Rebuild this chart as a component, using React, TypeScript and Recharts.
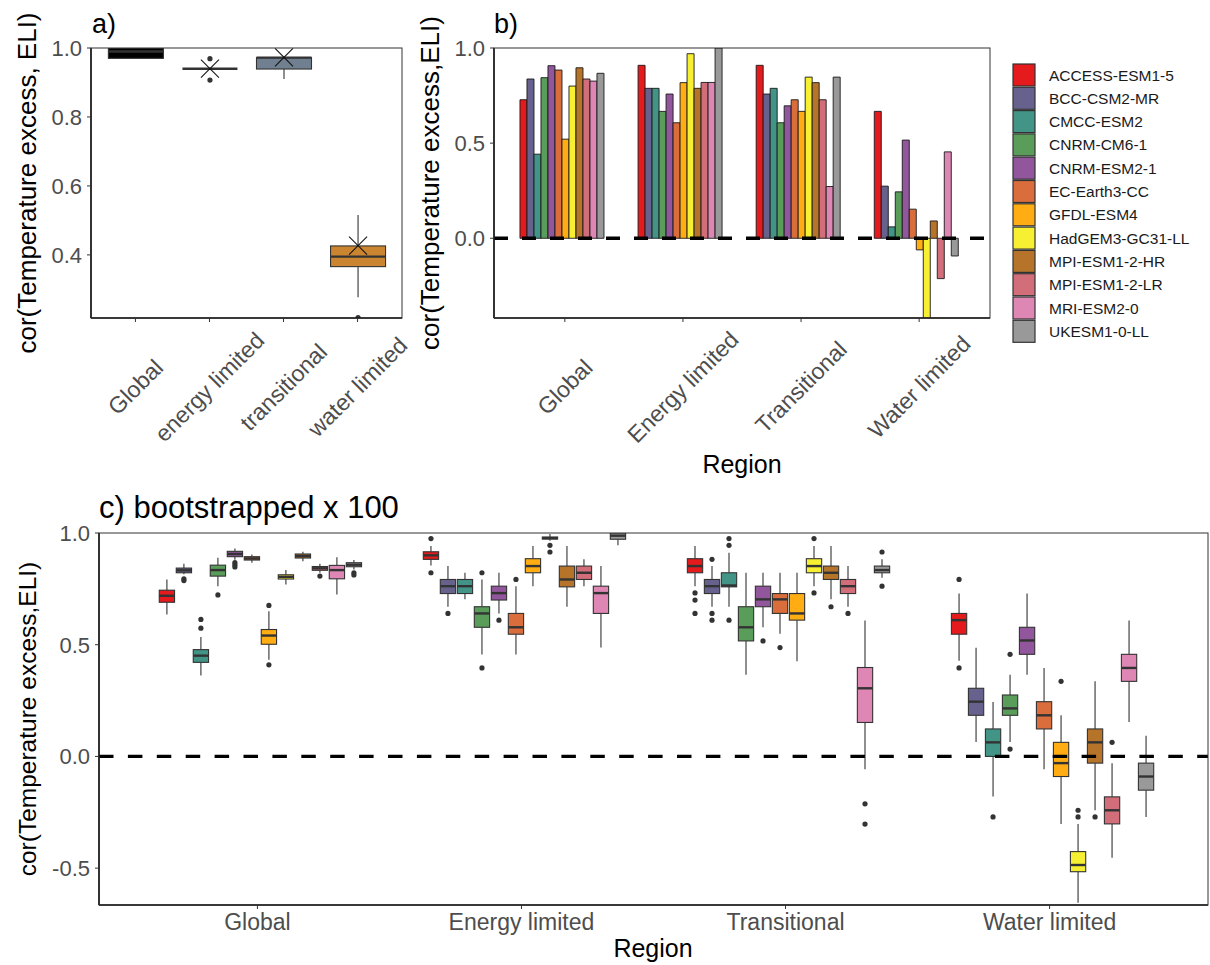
import React from 'react'
import { ComposedChart, Bar, XAxis, YAxis, ReferenceLine } from 'recharts'

const FONT = '"Liberation Sans", Arial, Helvetica, sans-serif'
const TICK_GREY = '#4d4d4d'

const regionsA = ['Global', 'energy limited', 'transitional', 'water limited']
const regions = ['Global', 'Energy limited', 'Transitional', 'Water limited']

const models = [
  'ACCESS-ESM1-5', 'BCC-CSM2-MR', 'CMCC-ESM2', 'CNRM-CM6-1', 'CNRM-ESM2-1', 'EC-Earth3-CC',
  'GFDL-ESM4', 'HadGEM3-GC31-LL', 'MPI-ESM1-2-HR', 'MPI-ESM1-2-LR', 'MRI-ESM2-0', 'UKESM1-0-LL',
]
const modelColors = [
  '#E41A1C', '#66628D', '#419486', '#5A9D5A', '#91569B', '#D96D3B',
  '#FFAD12', '#F7F032', '#B6742A', '#D26D7A', '#DE87B5', '#999999',
]

// [lower whisker, q1, median, q3, upper whisker, outliers]
type Box = [number, number, number, number, number, number[]]

// a) ensemble spread per region, cross = mean (hidden inside the black Global box)
const ensembleBoxes: Box[] = [
  [0.968, 0.97, 0.99, 1.0, 1.0, []],
  [0.94, 0.94, 0.94, 0.94, 0.94, [0.969, 0.907]],
  [0.91, 0.939, 0.972, 0.972, 0.972, []],
  [0.277, 0.366, 0.395, 0.426, 0.516, [0.218]],
]
const ensembleMeans: (number | null)[] = [null, 0.94, 0.973, 0.427]
const ensembleFills = ['#000000', '#ffffff', '#708090', '#CB8530']

// b) correlation per model
const corGlobal = [0.728, 0.837, 0.442, 0.844, 0.907, 0.884, 0.521, 0.8, 0.896, 0.837, 0.826, 0.867]
const corEnergy = [0.909, 0.788, 0.788, 0.667, 0.758, 0.607, 0.818, 0.97, 0.788, 0.819, 0.819, 1.0]
const corTransitional = [0.909, 0.758, 0.788, 0.607, 0.696, 0.728, 0.667, 0.847, 0.818, 0.728, 0.272, 0.847]
const corWater = [0.667, 0.274, 0.06, 0.244, 0.516, 0.153, -0.061, -0.5, 0.091, -0.212, 0.454, -0.093]

// c) bootstrapped x 100
const bootGlobal: Box[] = [
  [0.635, 0.69, 0.719, 0.744, 0.792, []],
  [0.815, 0.822, 0.833, 0.843, 0.862, [0.795, 0.787]],
  [0.362, 0.421, 0.451, 0.478, 0.535, [0.574, 0.613]],
  [0.762, 0.807, 0.834, 0.856, 0.889, [0.723]],
  [0.88, 0.894, 0.906, 0.918, 0.931, [0.867, 0.858, 0.848]],
  [0.867, 0.879, 0.886, 0.894, 0.904, []],
  [0.433, 0.502, 0.541, 0.568, 0.65, [0.676, 0.41]],
  [0.77, 0.794, 0.804, 0.813, 0.834, []],
  [0.874, 0.888, 0.897, 0.906, 0.916, []],
  [0.822, 0.833, 0.842, 0.85, 0.862, [0.807]],
  [0.725, 0.795, 0.834, 0.855, 0.892, []],
  [0.837, 0.849, 0.858, 0.867, 0.879, [0.822, 0.812]],
]
const bootEnergy: Box[] = [
  [0.855, 0.882, 0.9, 0.916, 0.942, [0.975, 0.822]],
  [0.67, 0.729, 0.762, 0.792, 0.852, [0.64]],
  [0.703, 0.729, 0.762, 0.792, 0.822, []],
  [0.456, 0.578, 0.64, 0.67, 0.792, [0.822, 0.396]],
  [0.64, 0.7, 0.731, 0.762, 0.822, [0.61]],
  [0.456, 0.547, 0.578, 0.64, 0.762, [0.792]],
  [0.762, 0.822, 0.852, 0.885, 0.942, []],
  [0.965, 0.973, 0.977, 0.982, 0.995, [0.945, 0.915]],
  [0.67, 0.759, 0.792, 0.852, 0.942, []],
  [0.762, 0.792, 0.822, 0.852, 0.882, []],
  [0.487, 0.64, 0.731, 0.762, 0.852, []],
  [0.945, 0.972, 0.988, 1.0, 1.0, []],
]
const bootTransitional: Box[] = [
  [0.762, 0.822, 0.852, 0.885, 0.942, [0.732, 0.7, 0.64]],
  [0.67, 0.729, 0.762, 0.792, 0.852, [0.882, 0.64, 0.61]],
  [0.67, 0.759, 0.765, 0.822, 0.912, [0.975, 0.945, 0.61]],
  [0.366, 0.517, 0.578, 0.67, 0.822, []],
  [0.578, 0.67, 0.703, 0.762, 0.822, [0.517]],
  [0.549, 0.64, 0.703, 0.729, 0.822, [0.487]],
  [0.426, 0.61, 0.64, 0.729, 0.822, []],
  [0.762, 0.822, 0.852, 0.885, 0.942, [0.975, 0.732]],
  [0.703, 0.792, 0.822, 0.852, 0.942, [0.67]],
  [0.67, 0.729, 0.762, 0.792, 0.852, [0.64]],
  [-0.057, 0.152, 0.305, 0.398, 0.608, [-0.212, -0.303]],
  [0.8, 0.822, 0.834, 0.852, 0.882, [0.915, 0.762]],
]
const bootWater: Box[] = [
  [0.428, 0.547, 0.61, 0.64, 0.729, [0.792, 0.396]],
  [0.064, 0.184, 0.245, 0.305, 0.486, []],
  [-0.179, 0.0, 0.063, 0.123, 0.244, [-0.271]],
  [0.064, 0.184, 0.215, 0.275, 0.366, [0.457, 0.033]],
  [0.366, 0.457, 0.519, 0.578, 0.729, []],
  [-0.057, 0.123, 0.184, 0.245, 0.396, []],
  [-0.302, -0.09, -0.03, 0.063, 0.184, [0.336]],
  [-0.655, -0.516, -0.486, -0.426, -0.302, [-0.241, -0.271]],
  [-0.241, -0.03, 0.063, 0.123, 0.336, [-0.271]],
  [-0.454, -0.302, -0.241, -0.181, -0.03, [0.063]],
  [0.154, 0.336, 0.396, 0.457, 0.608, []],
  [-0.271, -0.151, -0.09, -0.03, 0.093, []],
]

const domainA: [number, number] = [0.217, 1.0]
const domainB: [number, number] = [-0.419, 1.0]
const domainC: [number, number] = [-0.665, 1.0]
const ticksA = [0.4, 0.6, 0.8, 1.0]
const ticksB = [0, 0.5, 1]
const ticksC = [-0.5, 0, 0.5, 1]

const corByRegion = [corGlobal, corEnergy, corTransitional, corWater]
const bootByRegion = [bootGlobal, bootEnergy, bootTransitional, bootWater]

const rowsA = regionsA.map((r, i) => ({ region: r, box: ensembleBoxes[i], mean: ensembleMeans[i], fill: ensembleFills[i] }))
const rowsB = regions.map((r, ri) => {
  const row: any = { region: r }
  corByRegion[ri].forEach((v, i) => { row[`m${i}`] = v })
  return row
})
const rowsC = regions.map((r, ri) => ({ region: r, boxes: bootByRegion[ri] }))

// range covered by a box (whiskers + outliers), kept inside the axis domain
function extentOf(b: Box, d: [number, number]): [number, number] {
  const vals = [b[0], b[4], ...b[5]]
  let lo = Math.max(d[0], Math.min(...vals))
  let hi = Math.min(d[1], Math.max(...vals))
  if (hi - lo < 1e-6) { lo = Math.max(d[0], lo - 0.01); hi = lo + 0.02 }
  return [lo, hi]
}

function BoxGlyph(props: any) {
  const { x, y, width, height, box, ext, domain, fill, mean, boxFrac } = props
  if (x == null || y == null || !box) return null
  const top = Math.min(y, y + height)
  const bot = Math.max(y, y + height)
  const k = (bot - top) / (ext[1] - ext[0])
  const py = (v: number) => top + (ext[1] - v) * k
  const yTop = py(domain[1])
  const yBot = py(domain[0])
  const cl = (p: number) => Math.max(yTop, Math.min(yBot, p))
  const inside = (v: number) => v >= domain[0] && v <= domain[1]
  const [lo, q1, med, q3, hi, out] = box as Box
  const cx = x + width / 2
  const w = width * boxFrac
  const bx = cx - w / 2
  const st = '#333333'
  return (
    <g>
      <line x1={cx} x2={cx} y1={cl(py(hi))} y2={cl(py(q3))} stroke={st} strokeWidth={1.1} />
      <line x1={cx} x2={cx} y1={cl(py(q1))} y2={cl(py(lo))} stroke={st} strokeWidth={1.1} />
      <rect x={bx} y={cl(py(q3))} width={w} height={Math.max(0, cl(py(q1)) - cl(py(q3)))}
        fill={fill} stroke={st} strokeWidth={1.1} />
      {inside(med) && <line x1={bx} x2={bx + w} y1={py(med)} y2={py(med)} stroke={st} strokeWidth={2.4} />}
      {out.filter(inside).map((v, j) => <circle key={j} cx={cx} cy={py(v)} r={2.6} fill={st} />)}
      {mean != null && inside(mean) && (
        <g stroke="#111" strokeWidth={1.1}>
          <line x1={cx - 9} x2={cx + 9} y1={py(mean) - 9} y2={py(mean) + 9} />
          <line x1={cx - 9} x2={cx + 9} y1={py(mean) + 9} y2={py(mean) - 9} />
        </g>
      )}
    </g>
  )
}

const RotTick = (props: any) => {
  const { x, y, payload } = props
  const cy = y + 63
  return (
    <text x={x} y={cy} transform={`rotate(-45 ${x} ${cy})`} textAnchor="middle" dominantBaseline="central"
      fill={TICK_GREY} fontSize={23}>{payload.value}</text>
  )
}

const FlatTick = (props: any) => {
  const { x, y, payload } = props
  return <text x={x} y={y + 19} textAnchor="middle" fill={TICK_GREY} fontSize={23}>{payload.value}</text>
}

const yTick = { fill: TICK_GREY, fontSize: 22 }
const axisLine = { stroke: '#000', strokeWidth: 1.6 }
const tickLine = { stroke: '#333', strokeWidth: 1 }
const fmt = (v: number) => v.toFixed(1)

export default function App() {
  return (
    <div style={{ position: 'absolute', left: 0, top: 0, width: 1210, height: 965, background: '#fff', fontFamily: FONT, overflow: 'hidden' }}>
      {/* a) */}
      <div style={{ position: 'absolute', left: 0, top: 0 }}>
        <ComposedChart width={440} height={470} data={rowsA} margin={{ top: 48, right: 38, bottom: 0, left: 0 }}>
          <XAxis dataKey="region" height={152} padding={{ left: 7.4, right: 7.4 }} interval={0}
            tick={<RotTick />} tickLine={tickLine} axisLine={axisLine} tickSize={4} />
          <YAxis width={91} domain={domainA} allowDataOverflow ticks={ticksA} tickFormatter={fmt}
            tick={yTick} tickLine={tickLine} axisLine={axisLine} tickSize={4} tickMargin={5} />
          <Bar dataKey={(row: any) => extentOf(row.box, domainA)} barSize={55} isAnimationActive={false}
            shape={(p: any) => <BoxGlyph {...p} box={p.payload.box} ext={extentOf(p.payload.box, domainA)}
              domain={domainA} fill={p.payload.fill} mean={p.payload.mean} boxFrac={1} />} />
        </ComposedChart>
      </div>

      {/* b) */}
      <div style={{ position: 'absolute', left: 400, top: 0 }}>
        <ComposedChart width={600} height={490} data={rowsB} margin={{ top: 48, right: 10, bottom: 0, left: 0 }}
          barCategoryGap="12%" barGap={0}>
          <XAxis dataKey="region" height={172} padding={{ left: 11.8, right: 11.8 }} interval={0}
            tick={<RotTick />} tickLine={tickLine} axisLine={axisLine} tickSize={4} />
          <YAxis width={94} domain={domainB} allowDataOverflow ticks={ticksB} tickFormatter={fmt}
            tick={yTick} tickLine={tickLine} axisLine={axisLine} tickSize={4} tickMargin={5} />
          {models.map((m, i) => (
            <Bar key={m} name={m} dataKey={`m${i}`} fill={modelColors[i]} stroke="#1a1a1a" strokeWidth={0.9}
              isAnimationActive={false} />
          ))}
          <ReferenceLine y={0} stroke="#000" strokeWidth={3.3} strokeDasharray="14 14" />
        </ComposedChart>
      </div>

      {/* c) */}
      <div style={{ position: 'absolute', left: 0, top: 480 }}>
        <ComposedChart width={1210} height={485} data={rowsC} margin={{ top: 53, right: 2, bottom: 0, left: 0 }}
          barCategoryGap="12.5%" barGap={0}>
          <XAxis dataKey="region" height={60} padding={{ left: 26.4, right: 26.4 }} interval={0}
            tick={<FlatTick />} tickLine={tickLine} axisLine={axisLine} tickSize={4} />
          <YAxis width={99} domain={domainC} allowDataOverflow ticks={ticksC} tickFormatter={fmt}
            tick={yTick} tickLine={tickLine} axisLine={axisLine} tickSize={4} tickMargin={5} />
          {models.map((m, i) => (
            <Bar key={m} name={m} dataKey={(row: any) => extentOf(row.boxes[i], domainC)} isAnimationActive={false}
              shape={(p: any) => <BoxGlyph {...p} box={p.payload.boxes[i]} ext={extentOf(p.payload.boxes[i], domainC)}
                domain={domainC} fill={modelColors[i]} boxFrac={0.9} />} />
          ))}
          <ReferenceLine y={0} stroke="#000" strokeWidth={3.3} strokeDasharray="14.5 14.4" />
        </ComposedChart>
      </div>

      {/* titles, panel borders, legend */}
      <svg width={1210} height={965} style={{ position: 'absolute', left: 0, top: 0, pointerEvents: 'none' }}>
        <rect x={91} y={48} width={311} height={270} fill="none" stroke="#333" strokeWidth={1} />
        <rect x={494} y={48} width={496} height={270} fill="none" stroke="#333" strokeWidth={1} />
        <rect x={99} y={533} width={1109} height={372} fill="none" stroke="#333" strokeWidth={1} />

        <text x={92} y={33} fontSize={27} fill="#000">a)</text>
        <text x={494} y={33} fontSize={27} fill="#000">b)</text>
        <text x={99} y={518} fontSize={31} fill="#000">c) bootstrapped x 100</text>

        <text x={27} y={183} fontSize={26} textAnchor="middle" dominantBaseline="central" transform="rotate(-90 27 183)">cor(Temperature excess, ELI)</text>
        <text x={430} y={183} fontSize={26} textAnchor="middle" dominantBaseline="central" transform="rotate(-90 430 183)">cor(Temperature excess,ELI)</text>
        <text x={27} y={719} fontSize={24.5} textAnchor="middle" dominantBaseline="central" transform="rotate(-90 27 719)">cor(Temperature excess,ELI)</text>
        <text x={742} y={473} fontSize={25} textAnchor="middle">Region</text>
        <text x={653} y={957} fontSize={25} textAnchor="middle">Region</text>

        {models.map((m, i) => (
          <g key={m}>
            <rect x={1013} y={64 + i * 23.3} width={22} height={22} fill={modelColors[i]} stroke="#333" strokeWidth={1.2} />
            <text x={1049} y={75 + i * 23.3} fontSize={15.5} fill="#1a1a1a" dominantBaseline="central">{m}</text>
          </g>
        ))}
      </svg>
    </div>
  )
}
